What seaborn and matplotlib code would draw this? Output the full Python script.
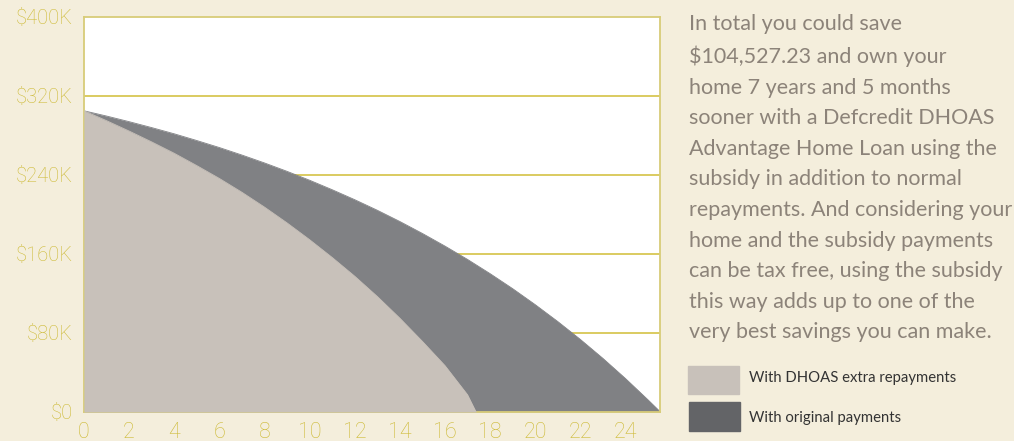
import numpy as np
import pandas as pd
import matplotlib.pyplot as plt
import matplotlib.patches as mpatches
import seaborn as sns

# Loan balance (in $K) by year
years_dhoas = [0, 1, 2, 3, 4, 5, 6, 7, 8, 9, 10, 11, 12, 13, 14, 15, 16, 17, 17.38]
balance_dhoas = [305, 295, 284.5, 273.5, 262, 249.5, 236.5, 222.5, 207.5, 191.5,
                 174.5, 156.5, 137.5, 117, 95, 71.5, 47, 17.5, 0]

years_orig = [0, 1, 2, 3, 4, 5, 6, 7, 8, 9, 10, 11, 12, 13, 14, 15, 16, 17, 18,
              19, 20, 21, 22, 23, 24, 25, 25.55]
balance_orig = [305, 299.7, 294, 288, 281.7, 274.9, 267.8, 260.2, 252.2, 243.7,
                234.7, 225.1, 215, 204.3, 192.9, 180.8, 168, 154.5, 140.1, 124.9,
                108.7, 91.6, 73.5, 54.3, 33.9, 12.3, 0]

y_ticks = [0, 80, 160, 240, 320, 400]
y_labels = ['$0', '$80K', '$160K', '$240K', '$320K', '$400K']
x_ticks = list(range(0, 25, 2))

legend_labels = ['With DHOAS extra repayments', 'With original payments']
blurb = ("In total you could save\n"
         "$104,527.23 and own your\n"
         "home 7 years and 5 months\n"
         "sooner with a Defcredit DHOAS\n"
         "Advantage Home Loan using the\n"
         "subsidy in addition to normal\n"
         "repayments. And considering your\n"
         "home and the subsidy payments\n"
         "can be tax free, using the subsidy\n"
         "this way adds up to one of the\n"
         "very best savings you can make.")

BG = '#F4EEDC'
GOLD = '#D4C246'
TICK_TXT = '#CDBA35'
SPINE = '#D8CC78'
CLR_DHOAS = '#C8C1BA'
CLR_ORIG = '#808184'
CLR_ORIG_KEY = '#636467'
TXT = '#8C8379'

sns.set_theme(style='white', rc={'figure.facecolor': BG, 'axes.facecolor': 'white'})
plt.rcParams['font.family'] = ['Lato', 'DejaVu Sans']

df_orig = pd.DataFrame({'year': years_orig, 'balance': balance_orig})
df_dhoas = pd.DataFrame({'year': years_dhoas, 'balance': balance_dhoas})

fig = plt.figure(figsize=(10.14, 4.41), dpi=100)
ax = fig.add_axes([0.0828, 0.0658, 0.5685, 0.8957])

# grid lines sit below the areas
for v in y_ticks[1:-1]:
    ax.axhline(v, color=GOLD, linewidth=1.2, zorder=0)

ax.fill_between(df_orig['year'], df_orig['balance'], color=CLR_ORIG, linewidth=0, zorder=2)
sns.lineplot(data=df_orig, x='year', y='balance', color=CLR_ORIG, linewidth=0.6, ax=ax, zorder=2)
ax.fill_between(df_dhoas['year'], df_dhoas['balance'], color=CLR_DHOAS, linewidth=0, zorder=3)
sns.lineplot(data=df_dhoas, x='year', y='balance', color=CLR_DHOAS, linewidth=0.6, ax=ax, zorder=3)

tick_font = {'family': ['Roboto', 'DejaVu Sans'], 'weight': 'light'}
ax.set_xlim(0, 25.55)
ax.set_ylim(0, 400)
ax.set_xticks(x_ticks)
ax.set_xticklabels([str(t) for t in x_ticks], fontdict=tick_font)
ax.set_yticks(y_ticks)
ax.set_yticklabels(y_labels, fontdict=tick_font)
ax.set_xlabel('')
ax.set_ylabel('')
ax.tick_params(axis='both', colors=GOLD, labelcolor=TICK_TXT, length=0)
ax.tick_params(axis='y', length=2, width=1, pad=6, labelsize=14.5)
ax.tick_params(axis='x', pad=7, labelsize=15.5)
for sp in ax.spines.values():
    sp.set_color(SPINE)
    sp.set_linewidth(1.3)
    sp.set_visible(True)

# explanatory paragraph
fig.text(0.679, 0.968, blurb, ha='left', va='top', fontsize=15.5, color=TXT,
         linespacing=1.66)

# legend keys
key_w, key_h = 51 / 1014, 28 / 441
fig.add_artist(mpatches.Rectangle((688 / 1014, 1 - 394 / 441), key_w, key_h,
                                  color=CLR_DHOAS, transform=fig.transFigure))
fig.add_artist(mpatches.Rectangle((689 / 1014, 1 - 431 / 441), key_w, 29 / 441,
                                  color=CLR_ORIG_KEY, transform=fig.transFigure))
fig.text(749 / 1014, 1 - 378 / 441, legend_labels[0], ha='left', va='center',
         fontsize=10.7, color='#333333')
fig.text(749 / 1014, 1 - 418 / 441, legend_labels[1], ha='left', va='center',
         fontsize=10.7, color='#333333')

plt.savefig('out.png', dpi=100, facecolor=BG)
plt.close()
